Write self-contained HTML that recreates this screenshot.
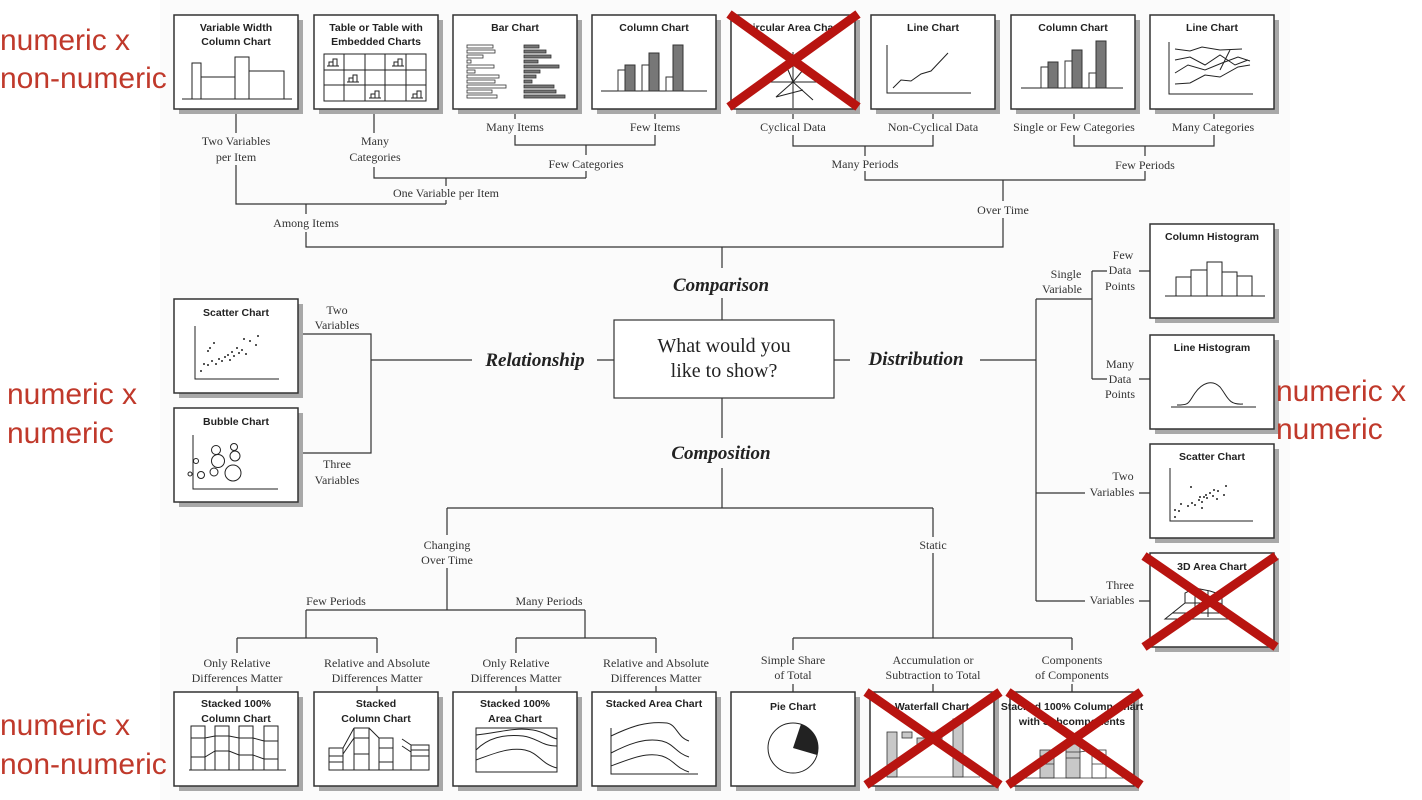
<!DOCTYPE html>
<html><head><meta charset="utf-8"><style>
html,body{margin:0;padding:0;background:#fff;}
svg{display:block}
.t{font-family:"Liberation Sans Narrow","Liberation Sans",sans-serif;font-size:10.5px;font-weight:bold;fill:#222;text-anchor:middle}
.s{font-family:"Liberation Serif",serif;font-size:12px;fill:#333;text-anchor:middle}
.h{font-family:"Liberation Serif",serif;font-size:19px;font-weight:bold;font-style:italic;fill:#222;text-anchor:middle}
.r{font-family:"Liberation Sans",sans-serif;font-size:30px;fill:#c0392b}
.l{stroke:#333;stroke-width:1.2;fill:none}
.c{stroke:#222;stroke-width:1;fill:none}
.x{stroke:#b81410;stroke-width:9;stroke-linecap:butt}
</style></head><body>
<svg width="1422" height="800" viewBox="0 0 1422 800" xmlns="http://www.w3.org/2000/svg">
<rect x="160" y="0" width="1130" height="800" fill="#fbfbfb"/>
<defs>
<g id="bx"><rect x="5" y="5" width="124" height="94" fill="#a8a8a8"/><rect x="0" y="0" width="124" height="94" fill="#fff" stroke="#333" stroke-width="1.5"/></g>
</defs>

<!-- connectors top -->
<g class="l">
<path d="M236 109V133M236 165V204H446M446 204V200M446 178V186"/>
<path d="M374 109V133M374 167V178H586M586 178V171M586 155V145"/>
<path d="M515 109V119M515 135V145H655V135M655 109V119"/>
<path d="M793 109V119M793 135V146H933V135M933 109V119"/>
<path d="M865 146V156M865 171V180H1145V171M1145 156V146"/>
<path d="M1074 109V119M1074 135V146H1214V135M1214 109V119"/>
<path d="M1003 180V201M1003 218V247H306V232M306 214V204"/>
<path d="M722 247V268M722 298V320"/>
<!-- relationship -->
<path d="M298 334H371V453H298M371 360H472M597 360H614"/>
<!-- distribution -->
<path d="M834 360H850M980 360H1036M1036 299V601M1036 299H1092M1092 271V379M1092 271H1107M1092 379H1107M1139 271H1150M1139 379H1150M1036 493H1085M1139 493H1150M1036 601H1085M1139 601H1150"/>
<!-- composition -->
<path d="M722 398V438M722 468V508H447M722 508H933M447 508V535M447 568V610H306M447 610H585M306 610V638H237M306 638H377M585 610V638H516M585 638H656"/>
<path d="M237 638V653M237 686V692M377 638V653M377 686V692M516 638V653M516 686V692M656 638V653M656 686V692"/>
<path d="M933 508V537M933 553V638H793M933 638H1072M793 638V650M793 684V692M933 650V650M1072 638V650M1072 684V692M933 684V692"/>
</g>

<!-- Top row boxes -->
<g transform="translate(174,15)"><use href="#bx"/><text class="t" x="62" y="16">Variable Width</text><text class="t" x="62" y="30">Column Chart</text>
<path class="c" d="M8 84H118M18 84V48H27V84M27 62H61M61 84V42H75V84M75 56H110V84"/></g>
<g transform="translate(314,15)"><use href="#bx"/><text class="t" x="62" y="16">Table or Table with</text><text class="t" x="62" y="30">Embedded Charts</text>
<path class="c" d="M10 39H112V86H10ZM10 55H112M10 70H112M30 39V86M51 39V86M71 39V86M92 39V86"/>
<path class="c" d="M13 51H25M15 51V47H19V51M19 51V44H23V51M78 51H90M80 51V47H84V51M84 51V44H88V51M33 67H45M35 67V63H39V67M39 67V60H43V67M55 83H67M57 83V79H61V83M61 83V76H65V83M97 83H109M99 83V79H103V83M103 83V76H107V83"/></g>
<g transform="translate(453,15)"><use href="#bx"/><text class="t" x="62" y="16">Bar Chart</text>
<g fill="#fff" stroke="#333" stroke-width="0.8"><rect x="14" y="30" width="26" height="3"/><rect x="14" y="35" width="28" height="3"/><rect x="14" y="40" width="16" height="3"/><rect x="14" y="45" width="4" height="3"/><rect x="14" y="50" width="27" height="3"/><rect x="14" y="55" width="8" height="3"/><rect x="14" y="60" width="32" height="3"/><rect x="14" y="65" width="28" height="3"/><rect x="14" y="70" width="39" height="3"/><rect x="14" y="75" width="25" height="3"/><rect x="14" y="80" width="30" height="3"/></g>
<g fill="#777" stroke="#333" stroke-width="0.8"><rect x="71" y="30" width="15" height="3"/><rect x="71" y="35" width="22" height="3"/><rect x="71" y="40" width="27" height="3"/><rect x="71" y="45" width="14" height="3"/><rect x="71" y="50" width="35" height="3"/><rect x="71" y="55" width="16" height="3"/><rect x="71" y="60" width="12" height="3"/><rect x="71" y="65" width="8" height="3"/><rect x="71" y="70" width="30" height="3"/><rect x="71" y="75" width="32" height="3"/><rect x="71" y="80" width="41" height="3"/></g></g>
<g transform="translate(592,15)"><use href="#bx"/><text class="t" x="62" y="16">Column Chart</text>
<path class="c" d="M9 76H115"/><g stroke="#333" stroke-width="1"><rect x="26" y="55" width="10" height="21" fill="#fff"/><rect x="33" y="50" width="10" height="26" fill="#777"/><rect x="50" y="50" width="10" height="26" fill="#fff"/><rect x="57" y="38" width="10" height="38" fill="#777"/><rect x="74" y="62" width="10" height="14" fill="#fff"/><rect x="81" y="30" width="10" height="46" fill="#777"/></g></g>
<g transform="translate(731,15)"><use href="#bx"/><text class="t" x="62" y="16">Circular Area Chart</text>
<path class="c" d="M62 37V93M34 67H91M62 67L45 82L72 75M62 67L55 50L62 45L72 55L62 67L82 85"/></g>
<g transform="translate(871,15)"><use href="#bx"/><text class="t" x="62" y="16">Line Chart</text>
<path class="c" d="M16 30V78H100M22 73L30 65L40 66L50 59L60 56L77 38"/></g>
<g transform="translate(1011,15)"><use href="#bx"/><text class="t" x="62" y="16">Column Chart</text>
<path class="c" d="M10 73H112"/><g stroke="#333" stroke-width="1"><rect x="30" y="52" width="10" height="21" fill="#fff"/><rect x="37" y="47" width="10" height="26" fill="#777"/><rect x="54" y="46" width="10" height="27" fill="#fff"/><rect x="61" y="35" width="10" height="38" fill="#777"/><rect x="78" y="58" width="10" height="15" fill="#fff"/><rect x="85" y="26" width="10" height="47" fill="#777"/></g></g>
<g transform="translate(1150,15)"><use href="#bx"/><text class="t" x="62" y="16">Line Chart</text>
<path class="c" d="M19 27V79H103M25 34L40 36L52 32L70 35L92 34M25 45L40 42L55 50L70 40L85 50L98 45M25 58L38 50L55 55L72 48L88 42L100 46M25 69L40 68L55 60L70 62L88 52L100 50M70 55L80 35"/></g>

<!-- Left boxes -->
<g transform="translate(174,299)"><use href="#bx"/><text class="t" x="62" y="17">Scatter Chart</text>
<path class="c" d="M21 27V80H105"/><g fill="#222"><circle cx="27" cy="72" r="1"/><circle cx="30" cy="65" r="1"/><circle cx="34" cy="66" r="1"/><circle cx="38" cy="62" r="1"/><circle cx="42" cy="65" r="1"/><circle cx="45" cy="60" r="1"/><circle cx="48" cy="62" r="1"/><circle cx="51" cy="58" r="1"/><circle cx="54" cy="56" r="1"/><circle cx="56" cy="61" r="1"/><circle cx="58" cy="53" r="1"/><circle cx="60" cy="57" r="1"/><circle cx="63" cy="49" r="1"/><circle cx="65" cy="54" r="1"/><circle cx="68" cy="51" r="1"/><circle cx="70" cy="40" r="1"/><circle cx="72" cy="55" r="1"/><circle cx="76" cy="42" r="1"/><circle cx="82" cy="46" r="1"/><circle cx="36" cy="49" r="1"/><circle cx="34" cy="52" r="1"/><circle cx="84" cy="37" r="1"/><circle cx="40" cy="44" r="1"/></g></g>
<g transform="translate(174,408)"><use href="#bx"/><text class="t" x="62" y="17">Bubble Chart</text>
<path class="c" d="M19 27V81H104"/><g class="c"><circle cx="38" cy="23" r="0" /><circle cx="42" cy="42" r="4.5"/><circle cx="60" cy="39" r="3.5"/><circle cx="44" cy="53" r="6.5"/><circle cx="61" cy="48" r="5"/><circle cx="22" cy="53" r="2.5"/><circle cx="16" cy="66" r="2"/><circle cx="27" cy="67" r="3.5"/><circle cx="40" cy="64" r="4"/><circle cx="59" cy="65" r="8"/></g></g>

<!-- Right boxes -->
<g transform="translate(1150,224)"><use href="#bx"/><text class="t" x="62" y="16">Column Histogram</text>
<path class="c" d="M15 72H115M26 72V53H41V72M41 72V46H57V72M57 72V38H72V72M72 72V48H87V72M87 72V52H102V72"/></g>
<g transform="translate(1150,335)"><use href="#bx"/><text class="t" x="62" y="16">Line Histogram</text>
<path class="c" d="M21 72H106M27 70C40 70 38 68 45 58C52 48 62 44 70 52C78 62 78 70 93 69"/></g>
<g transform="translate(1150,444)"><use href="#bx"/><text class="t" x="62" y="16">Scatter Chart</text>
<path class="c" d="M20 24V77H103"/><g fill="#222"><circle cx="25" cy="73" r="1"/><circle cx="25" cy="66" r="1"/><circle cx="29" cy="67" r="1"/><circle cx="31" cy="60" r="1"/><circle cx="38" cy="62" r="1"/><circle cx="42" cy="59" r="1"/><circle cx="45" cy="61" r="1"/><circle cx="49" cy="56" r="1"/><circle cx="50" cy="53" r="1"/><circle cx="52" cy="58" r="1"/><circle cx="54" cy="53" r="1"/><circle cx="56" cy="51" r="1"/><circle cx="57" cy="54" r="1"/><circle cx="60" cy="49" r="1"/><circle cx="63" cy="52" r="1"/><circle cx="64" cy="46" r="1"/><circle cx="67" cy="55" r="1"/><circle cx="68" cy="47" r="1"/><circle cx="74" cy="51" r="1"/><circle cx="76" cy="42" r="1"/><circle cx="41" cy="43" r="1"/><circle cx="52" cy="64" r="1"/></g></g>
<g transform="translate(1150,553)"><use href="#bx"/><text class="t" x="62" y="17">3D Area Chart</text>
<path class="c" d="M15 66L35 50L70 50L90 66ZM22 60L80 60M35 50V40L45 35L60 38L72 42V58M45 35V62M58 38V64"/></g>

<!-- Bottom boxes -->
<g transform="translate(174,692)"><use href="#bx"/><text class="t" x="62" y="15">Stacked 100%</text><text class="t" x="62" y="30">Column Chart</text>
<path class="c" d="M15 78H112M17 34H31V78H17ZM41 34H55V78H41ZM65 34H79V78H65ZM90 34H104V78H90ZM17 46H31L41 44H55L65 46H79L90 49H104M17 65H31L41 59H55L65 63H79L90 67H104"/></g>
<g transform="translate(314,692)"><use href="#bx"/><text class="t" x="62" y="15">Stacked</text><text class="t" x="62" y="30">Column Chart</text>
<path class="c" d="M15 78H115M15 56H29V78H15ZM15 64H29M15 70H29M29 78V56L40 36V78M40 36H55V78H40M40 46H55M40 62H55M55 36L65 46V78H55M65 46H79V78M65 56H79M65 70H79M88 47L97 53H115V78H97V53M97 58H115M97 64H115M88 54L97 60M29 62L40 46"/></g>
<g transform="translate(453,692)"><use href="#bx"/><text class="t" x="62" y="15">Stacked 100%</text><text class="t" x="62" y="30">Area Chart</text>
<path class="c" d="M23 36H104V80H23ZM23 43C45 41 60 35 80 38C92 40 96 45 104 47M23 58C35 46 50 42 70 44C85 46 88 54 104 54M23 68C40 62 55 55 72 58C86 61 88 72 104 76"/></g>
<g transform="translate(592,692)"><use href="#bx"/><text class="t" x="62" y="15">Stacked Area Chart</text>
<path class="c" d="M19 36V82H106M19 44C40 34 55 29 75 31C85 33 85 45 97 49M19 61C40 50 55 46 70 49C82 52 84 61 97 65M19 74C40 66 55 60 70 64C82 68 84 76 97 80"/></g>
<g transform="translate(731,692)"><use href="#bx"/><text class="t" x="62" y="18">Pie Chart</text>
<circle class="c" cx="62" cy="56" r="25"/><path d="M62 56L70 32A25 25 0 0 1 86 63Z" fill="#222"/></g>
<g transform="translate(870,692)"><use href="#bx"/><text class="t" x="62" y="18">Waterfall Chart</text>
<g stroke="#333" stroke-width="0.8"><rect x="17" y="40" width="10" height="45" fill="#c8c8c8"/><rect x="32" y="40" width="10" height="6" fill="#c8c8c8"/><rect x="47" y="46" width="10" height="8" fill="#c8c8c8"/><rect x="62" y="40" width="10" height="10" fill="#c8c8c8"/><rect x="83" y="27" width="10" height="58" fill="#c8c8c8"/><path d="M17 85H110" fill="none"/></g></g>
<g transform="translate(1010,692)"><use href="#bx"/><text class="t" x="62" y="18">Stacked 100% Column Chart</text><text class="t" x="62" y="33">with Subcomponents</text>
<g stroke="#333" stroke-width="0.8"><rect x="30" y="58" width="14" height="28" fill="#c8c8c8"/><rect x="56" y="52" width="14" height="34" fill="#c8c8c8"/><rect x="82" y="58" width="14" height="28" fill="#fff"/><path d="M10 86H115M30 64H44M30 72H44M56 60H70M56 66H70M82 64H96M82 72H96M44 64L56 52M70 60L82 58" fill="none"/></g></g>

<!-- center -->
<rect x="614" y="320" width="220" height="78" fill="#fff" stroke="#333" stroke-width="1.2"/>
<text x="724" y="352" font-family="Liberation Serif,serif" font-size="20" fill="#222" text-anchor="middle">What would you</text>
<text x="724" y="377" font-family="Liberation Serif,serif" font-size="20" fill="#222" text-anchor="middle">like to show?</text>
<text class="h" x="721" y="291">Comparison</text>
<text class="h" x="535" y="366">Relationship</text>
<text class="h" x="916" y="365">Distribution</text>
<text class="h" x="721" y="459">Composition</text>

<!-- serif labels -->
<g class="s">
<text x="236" y="145">Two Variables</text><text x="236" y="161">per Item</text>
<text x="375" y="145">Many</text><text x="375" y="161">Categories</text>
<text x="515" y="131">Many Items</text><text x="655" y="131">Few Items</text>
<text x="586" y="168">Few Categories</text>
<text x="446" y="197">One Variable per Item</text>
<text x="306" y="227">Among Items</text>
<text x="793" y="131">Cyclical Data</text><text x="933" y="131">Non-Cyclical Data</text>
<text x="1074" y="131">Single or Few Categories</text><text x="1213" y="131">Many Categories</text>
<text x="865" y="168">Many Periods</text><text x="1145" y="169">Few Periods</text>
<text x="1003" y="214">Over Time</text>
<text x="337" y="314">Two</text><text x="337" y="329">Variables</text>
<text x="337" y="468">Three</text><text x="337" y="484">Variables</text>
<text x="1066" y="278">Single</text><text x="1062" y="293">Variable</text>
<text x="1123" y="259">Few</text><text x="1120" y="274">Data</text><text x="1120" y="290">Points</text>
<text x="1120" y="368">Many</text><text x="1120" y="383">Data</text><text x="1120" y="398">Points</text>
<text x="1123" y="480">Two</text><text x="1112" y="496">Variables</text>
<text x="1120" y="589">Three</text><text x="1112" y="604">Variables</text>
<text x="447" y="549">Changing</text><text x="447" y="564">Over Time</text>
<text x="933" y="549">Static</text>
<text x="336" y="605">Few Periods</text><text x="549" y="605">Many Periods</text>
<text x="237" y="667">Only Relative</text><text x="237" y="682">Differences Matter</text>
<text x="377" y="667">Relative and Absolute</text><text x="377" y="682">Differences Matter</text>
<text x="516" y="667">Only Relative</text><text x="516" y="682">Differences Matter</text>
<text x="656" y="667">Relative and Absolute</text><text x="656" y="682">Differences Matter</text>
<text x="793" y="664">Simple Share</text><text x="793" y="679">of Total</text>
<text x="933" y="664">Accumulation or</text><text x="933" y="679">Subtraction to Total</text>
<text x="1072" y="664">Components</text><text x="1072" y="679">of Components</text>
</g>

<!-- red X -->
<g class="x">
<path d="M729 14L858 107M858 14L729 107"/>
<path d="M1144 556L1276 647M1276 556L1144 647"/>
<path d="M866 692L1000 785M1000 692L866 785"/>
<path d="M1008 692L1141 785M1141 692L1008 785"/>
</g>

<!-- red annotations -->
<g class="r">
<text x="0" y="50">numeric x</text><text x="0" y="88">non-numeric</text>
<text x="7" y="404">numeric x</text><text x="7" y="443">numeric</text>
<text x="1276" y="401">numeric x</text><text x="1276" y="439">numeric</text>
<text x="0" y="735">numeric x</text><text x="0" y="774">non-numeric</text>
</g>
</svg>
</body></html>
